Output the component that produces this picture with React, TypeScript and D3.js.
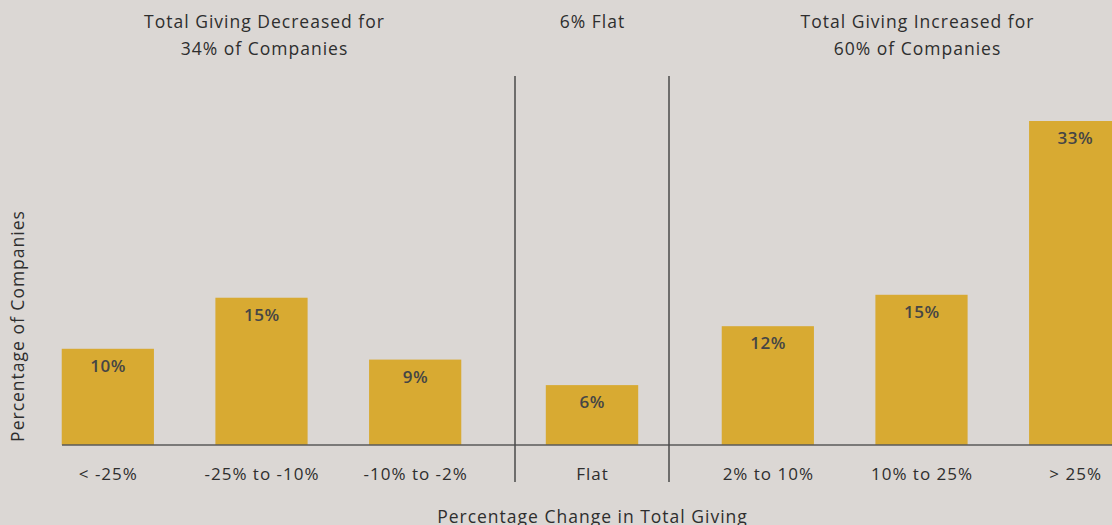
import React from "react";
import * as d3 from "d3";

const decreasedCats = ["< -25%", "-25% to -10%", "-10% to -2%"];
const decreasedVals = [9.8, 15.0, 8.7];
const flatCats = ["Flat"];
const flatVals = [6.1];
const increasedCats = ["2% to 10%", "10% to 25%", "> 25%"];
const increasedVals = [12.1, 15.3, 33];
const groupTitles = [
  ["Total Giving Decreased for", "34% of Companies"],
  ["6% Flat"],
  ["Total Giving Increased for", "60% of Companies"],
];
const xTitle = "Percentage Change in Total Giving";
const yTitle = "Percentage of Companies";

const W = 1112;
const H = 525;
const BG = "#dbd7d4";
const BAR = "#d8aa32";
const FONT = "'Open Sans', sans-serif";
const LS = 1.0;

export default function App() {
  React.useEffect(() => {
    document.body.style.margin = "0";
  }, []);
  const baseY = 445;
  const y = d3.scaleLinear().domain([0, 33]).range([baseY, 121]);
  const groups = [
    { cats: decreasedCats, vals: decreasedVals, range: [31, 492], title: groupTitles[0], tx: 264 },
    { cats: flatCats, vals: flatVals, range: [515, 669], title: groupTitles[1], tx: 592 },
    { cats: increasedCats, vals: increasedVals, range: [691, 1152], title: groupTitles[2], tx: 917 },
  ];
  const seps = [515, 669];
  const fmt = (v: number) => `${Math.round(v)}%`;
  return (
    <svg width={W} height={H} style={{ display: "block", background: BG }} fontFamily={FONT}>
      <rect x={0} y={0} width={W} height={H} fill={BG} />
      {groups.map((g, gi) => {
        const x = d3
          .scaleBand<string>()
          .domain(g.cats)
          .range(g.range as [number, number])
          .paddingInner(0.4)
          .paddingOuter(0.2);
        return (
          <g key={gi}>
            {g.title.map((t, i) => (
              <text key={i} x={g.tx + LS / 2} y={28 + i * 27} textAnchor="middle" fontSize={17.5} fill="#2e2e2e" letterSpacing={LS}>
                {t}
              </text>
            ))}
            {g.cats.map((c, i) => (
              <g key={c}>
                <rect x={x(c)} y={y(g.vals[i])} width={x.bandwidth()} height={baseY - y(g.vals[i])} fill={BAR} />
                <text
                  x={(x(c) as number) + x.bandwidth() / 2 + 0.25}
                  y={y(g.vals[i]) + 23}
                  textAnchor="middle"
                  fontSize={17}
                  fontWeight={600}
                  fill="#454545"
                  letterSpacing={0.5}
                >
                  {fmt(g.vals[i])}
                </text>
                <text
                  x={(x(c) as number) + x.bandwidth() / 2 + LS / 2}
                  y={480}
                  textAnchor="middle"
                  fontSize={17}
                  fill="#2e2e2e"
                  letterSpacing={LS}
                >
                  {c}
                </text>
              </g>
            ))}
          </g>
        );
      })}
      <line x1={62} x2={W} y1={baseY} y2={baseY} stroke="#5a5a5a" strokeWidth={1.5} />
      {seps.map((s) => (
        <line key={s} x1={s} x2={s} y1={76} y2={482} stroke="#4a4a4a" strokeWidth={1.5} />
      ))}
      <text x={592 + LS / 2} y={523} textAnchor="middle" fontSize={17.5} fill="#2e2e2e" letterSpacing={LS}>
        {xTitle}
      </text>
      <text
        transform={`translate(24, 326) rotate(-90)`}
        textAnchor="middle"
        fontSize={17.5}
        fill="#2e2e2e"
        letterSpacing={LS}
      >
        {yTitle}
      </text>
    </svg>
  );
}
